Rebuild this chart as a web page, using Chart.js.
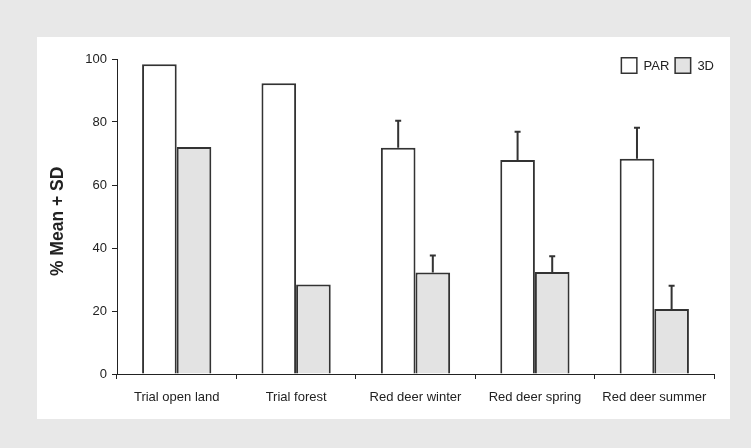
<!DOCTYPE html>
<html>
<head>
<meta charset="utf-8">
<script src="https://cdn.jsdelivr.net/npm/chart.js@4"></script>
<style>
  body { margin: 0; background: #e8e8e8; width: 751px; height: 448px; overflow: hidden; }
  #panel { position: absolute; left: 37px; top: 37px; width: 693px; height: 382px; background: #fff; }
</style>
</head>
<body>
<div id="panel"><canvas id="deer" width="693" height="382"></canvas></div>
<script>
// values
var groups = ['Trial open land', 'Trial forest', 'Red deer winter', 'Red deer spring', 'Red deer summer'];
var parMean = [98.3, 92.3, 71.8, 67.9, 68.3];
var parSD = [null, null, 8.6, 9.0, 9.9];
var d3Mean = [72.1, 28.4, 32.2, 32.4, 20.6];
var d3SD = [null, null, 5.4, 5.0, 7.4];
var yTicks = [0, 20, 40, 60, 80, 100];

var font = 'Liberation Sans, Arial, sans-serif';

// error bars, upward only, drawn from the SD arrays
var errorBars = {
  id: 'errorBars',
  afterDatasetsDraw: function(chart) {
    var ctx = chart.ctx;
    var y = chart.scales.y;
    chart.data.datasets.forEach(function(ds, i) {
      var meta = chart.getDatasetMeta(i);
      meta.data.forEach(function(bar, j) {
        var sd = ds.sd[j];
        if (sd == null) return;
        var top = y.getPixelForValue(ds.data[j] + sd);
        ctx.save();
        ctx.strokeStyle = '#333';
        ctx.lineWidth = 2;
        ctx.beginPath();
        ctx.moveTo(bar.x, bar.y);
        ctx.lineTo(bar.x, top);
        ctx.moveTo(bar.x - 3, top);
        ctx.lineTo(bar.x + 3, top);
        ctx.stroke();
        ctx.restore();
      });
    });
  }
};

// small legend in the top right corner of the plot
var cornerLegend = {
  id: 'cornerLegend',
  afterDraw: function(chart) {
    var ctx = chart.ctx;
    var area = chart.chartArea;
    var box = 17;
    ctx.save();
    ctx.font = '13px ' + font;
    var widths = chart.data.datasets.map(function(ds) { return box + 6 + ctx.measureText(ds.label).width; });
    var total = widths.reduce(function(a, b) { return a + b; }, 0) + 5 * (widths.length - 1);
    var x = area.right - total;
    var top = area.top - 2;
    chart.data.datasets.forEach(function(ds, i) {
      ctx.fillStyle = ds.backgroundColor;
      ctx.fillRect(x, top, box, box);
      ctx.strokeStyle = '#333';
      ctx.lineWidth = 1.5;
      ctx.strokeRect(x + 0.75, top + 0.75, box - 1.5, box - 1.5);
      ctx.fillStyle = '#222';
      ctx.textBaseline = 'middle';
      ctx.fillText(ds.label, x + box + 6, top + box / 2 + 1);
      x += widths[i] + 5;
    });
    ctx.restore();
  }
};

new Chart('deer', {
  type: 'bar',
  data: {
    labels: groups,
    datasets: [
      { label: 'PAR', data: parMean, sd: parSD, backgroundColor: '#ffffff', borderColor: '#333', borderWidth: 2 },
      { label: '3D', data: d3Mean, sd: d3SD, backgroundColor: '#e3e3e3', borderColor: '#333', borderWidth: 2 }
    ]
  },
  options: {
    responsive: false,
    animation: false,
    layout: { padding: { top: 22, right: 16, left: 0, bottom: 0 } },
    datasets: { bar: { barPercentage: 1, categoryPercentage: 0.58 } },
    plugins: { legend: { display: false }, tooltip: { enabled: false } },
    scales: {
      x: {
        grid: { display: true, drawOnChartArea: false, offset: true, color: '#222', tickLength: 5 },
        border: { color: '#222', width: 1 },
        ticks: { color: '#222', font: { family: font, size: 13 }, padding: 11, maxRotation: 0, autoSkip: false },
        afterFit: function(s) { s.height = 45; }
      },
      y: {
        min: 0, max: 100,
        afterBuildTicks: function(s) { s.ticks = yTicks.map(function(v) { return { value: v }; }); },
        grid: { display: true, drawOnChartArea: false, color: '#222', tickLength: 5 },
        border: { color: '#222', width: 1 },
        ticks: { color: '#222', font: { family: font, size: 13 }, padding: 5 },
        // trailing spaces nudge the rotated title a little lower, as in the original
        title: { display: true, text: '% Mean + SD\u00a0\u00a0', color: '#222', font: { family: font, size: 17.5, weight: 'bold' }, padding: { top: 11, bottom: 0 } },
        afterFit: function(s) { s.width = 80; }
      }
    }
  },
  plugins: [errorBars, cornerLegend]
});
</script>
</body>
</html>
